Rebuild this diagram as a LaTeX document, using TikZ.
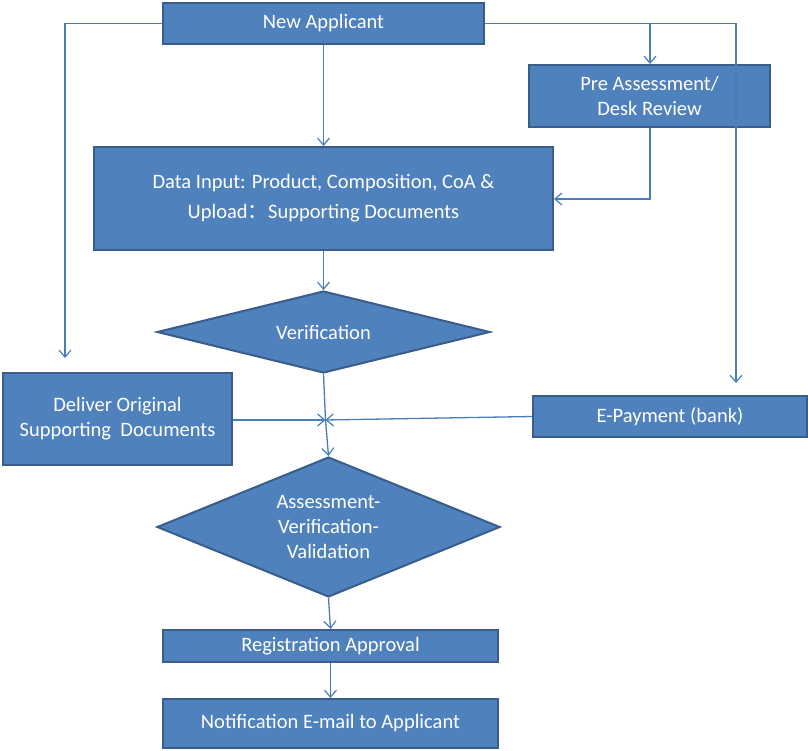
\documentclass[tikz,border=0pt]{standalone}
\usepackage{fontspec}
\setmainfont{Carlito}
\newfontfamily\cjk{Noto Sans CJK SC}
\usetikzlibrary{shapes.geometric,arrows.meta}
\definecolor{boxfill}{HTML}{4F81BD}
\definecolor{boxline}{HTML}{385D8A}
\definecolor{conn}{HTML}{4A7EBB}
\begin{document}
\begin{tikzpicture}[x=1pt,y=-1pt,
  every node/.style={font=\fontsize{20.5}{25}\selectfont, text=white, align=center},
  stepbox/.style={rectangle, fill=boxfill, draw=boxline, line width=2pt, inner sep=0pt},
  decide/.style={diamond, fill=boxfill, draw=boxline, line width=2pt, inner sep=0pt},
  conline/.style={draw=conn, line width=1.3pt},
  arr/.style={conline, -{Straight Barb[length=7pt,width=12pt,line width=1.2pt]}}
]
\useasboundingbox (0,0) rectangle (808,751);
\node[stepbox, minimum width=321pt, minimum height=41pt] (na) at (323.5,23.5) {New Applicant};
\node[stepbox, minimum width=241pt, minimum height=62pt] (pre) at (649.5,96) {Pre Assessment/\\Desk Review};
\node[stepbox, minimum width=459pt, minimum height=103pt, font=\fontsize{20.5}{30}\selectfont] (data) at (323.5,198.5) {Data Input: Product, Composition,\ CoA \&\\Upload{\cjk ：}Supporting Documents};
\node[decide, minimum width=333pt, minimum height=82pt, aspect=4.06] (ver) at (323.5,332) {Verification};
\node[stepbox, minimum width=229pt, minimum height=92pt] (del) at (117.5,419) {Deliver Original\\Supporting\ \ Documents};
\node[stepbox, minimum width=274pt, minimum height=41pt] (pay) at (670,416.5) {E-Payment\ (bank)};
\node[decide, minimum width=343pt, minimum height=140pt, aspect=2.45] (ass) at (328.5,527) {Assessment-\\Verification-\\Validation};
\node[stepbox, minimum width=335pt, minimum height=32pt] (reg) at (330.5,646) {Registration Approval};
\node[stepbox, minimum width=335pt, minimum height=49pt] (note) at (330.5,723.5) {Notification E-mail to Applicant};
\coordinate (J) at (325.5,420);
\coordinate (Lt) at (65,358);
\coordinate (Rt) at (736,383);
% connectors
\draw[arr] (na.south) -- (data.north);
\draw[arr] (na.west |- 0,23.5) -| (Lt);
\draw[arr] (na.east |- 0,23.5) -| (Rt);
\draw[arr] (650,23.5) -- (650,0 |- pre.north);
\draw[arr] (650,0 |- pre.south) |- (data.east |- 0,199);
\draw[arr] (data.south) -- (ver.north);
\draw[conline] (ver.south) -- (J);
\draw[arr] (J) -- (ass.north);
\draw[arr] (del.east |- J) -- (J);
\draw[arr] (pay.west) -- (J);
\draw[arr] (ass.south) -- (reg.north);
\draw[arr] (reg.south) -- (note.north);
\end{tikzpicture}
\end{document}
